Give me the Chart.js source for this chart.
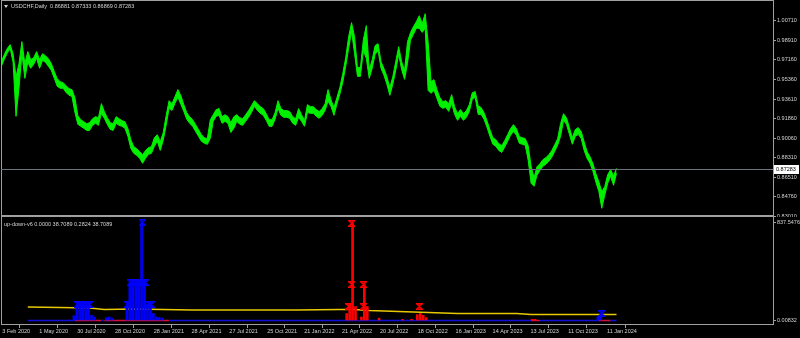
<!DOCTYPE html>
<html><head><meta charset="utf-8">
<script src="https://cdn.jsdelivr.net/npm/chart.js@4.4.1/dist/chart.umd.min.js"></script>
<style>
html,body{margin:0;padding:0;background:#000;width:800px;height:338px;overflow:hidden}
canvas{position:absolute;left:0;display:block}
#a{top:0}
#b{top:217px}
</style></head><body>
<canvas id="a" width="800" height="217"></canvas>
<canvas id="b" width="800" height="121"></canvas>
<script>
// ---------- data ----------
const symbolTitle = 'USDCHF,Daily  0.86881 0.87333 0.86869 0.87283';
const indicatorTitle = 'up-down-v6 0.0000 38.7089 0.2824 38.7089';
const firstWeek = '2020-02-03';
const lastPrice = 0.87283;
const tickDates = ['2020-02-03','2020-05-01','2020-07-30','2020-10-28','2021-01-28','2021-04-28','2021-07-27','2021-10-25','2022-01-21','2022-04-21','2022-07-20','2022-10-18','2023-01-16','2023-04-14','2023-07-13','2023-10-11','2024-01-11'];
const tickLabels = ['3 Feb 2020','1 May 2020','30 Jul 2020','28 Oct 2020','28 Jan 2021','28 Apr 2021','27 Jul 2021','25 Oct 2021','21 Jan 2022','21 Apr 2022','20 Jul 2022','18 Oct 2022','16 Jan 2023','14 Apr 2023','13 Jul 2023','11 Oct 2023','11 Jan 2024'];
const priceTicks = [1.00710,0.98910,0.97160,0.95360,0.93610,0.91860,0.90060,0.88310,0.86510,0.84760,0.83010];
const indTicks = [837.5476, 0];
const indTickLabels = ['837.5476', '0.00832'];

// weekly high / low (one entry per week starting 3 Feb 2020)
const weeklyHigh = [
0.9699,0.9762,0.9817,0.9853,0.9771,0.9563,0.9681,0.9880,0.9681,0.9790,
0.9717,0.9735,0.9790,0.9717,0.9771,0.9753,0.9726,0.9681,0.9609,0.9545,
0.9518,0.9509,0.9482,0.9455,0.9446,0.9373,0.9210,0.9174,0.9156,0.9138,
0.9147,0.9183,0.9201,0.9192,0.9319,0.9247,0.9192,0.9147,0.9138,0.9201,
0.9183,0.9165,0.9156,0.9093,0.8993,0.8930,0.8912,0.8885,0.8857,0.8894,
0.8921,0.8930,0.9011,0.9038,0.8975,0.9056,0.9210,0.9346,0.9319,0.9382,
0.9446,0.9391,0.9310,0.9237,0.9201,0.9174,0.9129,0.9084,0.9038,0.9011,
0.9002,0.9174,0.9219,0.9265,0.9274,0.9201,0.9219,0.9201,0.9147,0.9201,
0.9219,0.9192,0.9183,0.9219,0.9256,0.9301,0.9346,0.9319,0.9292,0.9274,
0.9228,0.9174,0.9174,0.9237,0.9346,0.9274,0.9256,0.9256,0.9247,0.9201,
0.9183,0.9274,0.9219,0.9165,0.9310,0.9292,0.9292,0.9265,0.9247,0.9274,
0.9319,0.9446,0.9355,0.9283,0.9373,0.9464,0.9590,0.9735,0.9925,1.0052,
0.9925,0.9645,0.9645,0.9898,1.0025,0.9627,0.9717,0.9844,0.9862,0.9699,
0.9636,0.9563,0.9464,0.9563,0.9699,0.9835,0.9699,0.9618,0.9880,0.9961,
1.0016,1.0061,1.0115,1.0043,1.0133,0.9880,0.9518,0.9536,0.9446,0.9373,
0.9337,0.9346,0.9319,0.9400,0.9292,0.9228,0.9265,0.9228,0.9256,0.9310,
0.9418,0.9428,0.9301,0.9283,0.9237,0.9165,0.9084,0.9011,0.8993,0.8957,
0.8939,0.8984,0.9038,0.9093,0.9129,0.9093,0.9020,0.9011,0.9002,0.8939,
0.8749,0.8649,0.8749,0.8776,0.8812,0.8830,0.8857,0.8894,0.8948,0.9002,
0.9138,0.9228,0.9192,0.9102,0.9011,0.9084,0.9102,0.9066,0.8975,0.8885,
0.8839,0.8776,0.8685,0.8613,0.8523,0.8568,0.8676,0.8722,0.8667,0.8733];
const weeklyLow = [
0.9657,0.9720,0.9774,0.9820,0.9693,0.9204,0.9458,0.9774,0.9548,0.9693,
0.9639,0.9675,0.9729,0.9639,0.9711,0.9693,0.9657,0.9620,0.9548,0.9476,
0.9458,0.9458,0.9421,0.9394,0.9385,0.9240,0.9132,0.9114,0.9096,0.9077,
0.9077,0.9123,0.9141,0.9123,0.9231,0.9186,0.9132,0.9086,0.9077,0.9141,
0.9123,0.9114,0.9096,0.9023,0.8915,0.8869,0.8851,0.8824,0.8779,0.8824,
0.8860,0.8869,0.8933,0.8978,0.8896,0.8987,0.9123,0.9277,0.9258,0.9322,
0.9376,0.9313,0.9249,0.9177,0.9141,0.9114,0.9068,0.9023,0.8978,0.8960,
0.8951,0.9005,0.9159,0.9204,0.9213,0.9141,0.9159,0.9141,0.9059,0.9096,
0.9159,0.9132,0.9123,0.9159,0.9195,0.9240,0.9295,0.9258,0.9231,0.9213,
0.9168,0.9114,0.9114,0.9177,0.9277,0.9213,0.9195,0.9195,0.9186,0.9141,
0.9123,0.9195,0.9159,0.9114,0.9240,0.9231,0.9231,0.9204,0.9186,0.9213,
0.9258,0.9340,0.9295,0.9213,0.9313,0.9403,0.9512,0.9657,0.9820,0.9973,
0.9774,0.9566,0.9566,0.9801,0.9729,0.9548,0.9639,0.9765,0.9801,0.9639,
0.9575,0.9494,0.9394,0.9494,0.9620,0.9765,0.9629,0.9539,0.9684,0.9892,
0.9946,1.0001,1.0001,0.9964,1.0001,0.9439,0.9412,0.9439,0.9367,0.9295,
0.9277,0.9286,0.9249,0.9322,0.9222,0.9168,0.9204,0.9168,0.9195,0.9249,
0.9358,0.9376,0.9222,0.9222,0.9177,0.9105,0.9023,0.8951,0.8933,0.8896,
0.8878,0.8924,0.8978,0.9032,0.9068,0.9032,0.8960,0.8951,0.8942,0.8806,
0.8598,0.8571,0.8670,0.8715,0.8752,0.8770,0.8797,0.8833,0.8887,0.8942,
0.9023,0.9168,0.9132,0.9041,0.8951,0.9023,0.9041,0.9005,0.8896,0.8824,
0.8779,0.8706,0.8607,0.8525,0.8372,0.8489,0.8598,0.8661,0.8580,0.8687];

// indicator (week index -> value)
const blueWeeks  = [25,26,27,28,29,30,31,32,36,37,38,43,44,45,46,47,48,49,50,51,52,53,54,55,203,204];
const blueValues = [40,137,137,137,137,137,45,30,25,30,20,137,325,325,325,325,837.5,325,137,137,60,30,25,20,30,60];
const redWeeks   = [117,118,119,120,122,123,124,128,136,139,141,142,143,144,180,181];
const redValues  = [60,137,830,120,30,308,120,20,10,10,50,60,45,25,10,10];
const blueMarkWeeks  = [26,27,28,29,30,43,44,45,46,47,48,49,50,51,48,204];
const blueMarkValues = [137,137,137,137,137,137,325,325,325,325,325,325,137,137,837.5,60];
const redMarkWeeks  = [118,119,119,123,123,142];
const redMarkValues = [120,830,308,308,120,120];
const yellowWeeks  = [9,20,30,35,45,55,65,80,100,115,120,125,135,145,155,175,180,209];
const yellowValues = [115,111,107,94,98,94,90,90,90,94,94,85,77,68,60,60,51,51];
const baseStart = 9, baseEnd = 209;
const redBaseRanges = [[25,33],[35,56],[180,182],[203,206]];

// ---------- helpers ----------
const DAY = 86400000;
const t0 = Date.parse(firstWeek + 'T00:00:00Z');
const dayOf = s => Math.round((Date.parse(s + 'T00:00:00Z') - t0) / DAY);
const wk = w => w * 7;
const X_MIN = -0.71, X_MAX = 1835.2;
const Y_MIN = 0.83022, Y_MAX = 1.024795;
const FONT = 'Liberation Sans';
const FS = 5.5;
const TXT = '#d4d4d4';
const FRAME = '#a0a0a0';
const GREEN = '#00f000';

function marker(color) {
  const c = document.createElement('canvas');
  c.width = 7; c.height = 7;
  const g = c.getContext('2d');
  g.strokeStyle = color; g.lineWidth = 1.4;
  g.beginPath();
  g.moveTo(0, 0.7); g.lineTo(7, 0.7);
  g.moveTo(0, 6.3); g.lineTo(7, 6.3);
  g.moveTo(1, 1); g.lineTo(6, 6);
  g.moveTo(6, 1); g.lineTo(1, 6);
  g.stroke();
  return c;
}

const framePlugin = {
  id: 'frame',
  afterDraw(chart, args, opts) {
    const {ctx, chartArea: a} = chart;
    ctx.save();
    ctx.fillStyle = FRAME;
    ctx.fillRect(a.left, a.top - 1, 1, a.bottom - a.top + 1);
    ctx.fillRect(a.right, a.top - 1, 1, a.bottom - a.top + 1);
    if (opts.top) ctx.fillRect(a.left, a.top - 1, a.right - a.left + 1, 1);
    if (opts.bottom) ctx.fillRect(a.left, a.bottom - opts.bottom + 1, a.right - a.left + 1, opts.bottom);
    ctx.restore();
  }
};

const mainDecor = {
  id: 'mainDecor',
  afterDraw(chart) {
    const {ctx, chartArea: a, scales} = chart;
    const y = Math.round(scales.y.getPixelForValue(lastPrice)) + 0.5;
    ctx.save();
    ctx.strokeStyle = '#68737d'; ctx.lineWidth = 1;
    ctx.beginPath(); ctx.moveTo(a.left, y); ctx.lineTo(a.right, y); ctx.stroke();
    ctx.fillStyle = '#ffffff';
    ctx.fillRect(a.right + 1, y - 4.5, 25, 9);
    ctx.fillStyle = '#000000';
    ctx.font = FS + 'px "' + FONT + '"';
    ctx.textBaseline = 'middle';
    ctx.fillText(lastPrice.toFixed(5), a.right + 3, y);
    // title
    ctx.fillStyle = TXT;
    ctx.beginPath(); ctx.moveTo(4, 5); ctx.lineTo(8, 5); ctx.lineTo(6, 8); ctx.closePath(); ctx.fill();
    ctx.fillText(symbolTitle, 11, 6.5);
    ctx.restore();
  }
};

const subDecor = {
  id: 'subDecor',
  afterDraw(chart) {
    const {ctx} = chart;
    ctx.save();
    ctx.fillStyle = TXT;
    ctx.font = FS + 'px "' + FONT + '"';
    ctx.textBaseline = 'middle';
    ctx.fillText(indicatorTitle, 4, 7);
    ctx.restore();
  }
};

// ---------- main chart: price band between weekly highs and lows ----------
new Chart(document.getElementById('a'), {
  type: 'line',
  data: {datasets: [
    {data: weeklyHigh.map((h, i) => ({x: wk(i), y: h})), borderColor: GREEN, borderWidth: 1, pointRadius: 0, fill: false},
    {data: weeklyLow.map((l, i) => ({x: wk(i), y: l})), borderColor: GREEN, borderWidth: 1, pointRadius: 0, fill: '-1', backgroundColor: GREEN}
  ]},
  options: {
    responsive: false, animation: false, events: [],
    layout: {padding: {top: 1, left: 1, right: 0, bottom: 1}, autoPadding: false},
    plugins: {legend: {display: false}, tooltip: {enabled: false}, frame: {top: true, bottom: 2}},
    scales: {
      x: {type: 'linear', min: X_MIN, max: X_MAX, offset: false, display: false},
      y: {
        position: 'right', min: Y_MIN, max: Y_MAX,
        afterBuildTicks(s) { s.ticks = priceTicks.map(v => ({value: v})); },
        afterFit(s) { s.width = 27; s.paddingTop = 0; s.paddingBottom = 0; },
        ticks: {color: TXT, font: {family: FONT, size: FS}, padding: 1, callback: v => Number(v).toFixed(5)},
        grid: {drawOnChartArea: false, color: FRAME, tickLength: 3},
        border: {display: false}
      }
    }
  },
  plugins: [framePlugin, mainDecor]
});

// ---------- indicator chart ----------
const inRed = w => redBaseRanges.some(r => w >= r[0] && w <= r[1]);
const basePts = [];
for (let w = baseStart; w <= baseEnd; w++) basePts.push({x: wk(w), y: 0});

new Chart(document.getElementById('b'), {
  type: 'bar',
  data: {datasets: [
    {type: 'line', data: blueMarkWeeks.map((w, i) => ({x: wk(w), y: blueMarkValues[i]})), showLine: false, pointStyle: marker('#0000ff'), pointRadius: 3.5},
    {type: 'line', data: redMarkWeeks.map((w, i) => ({x: wk(w), y: redMarkValues[i]})), showLine: false, pointStyle: marker('#ff0000'), pointRadius: 3.5},
    {data: blueWeeks.map((w, i) => ({x: wk(w), y: blueValues[i]})), backgroundColor: '#0000ff', borderWidth: 0, barThickness: 2},
    {data: redWeeks.map((w, i) => ({x: wk(w), y: redValues[i]})), backgroundColor: '#ff0000', borderWidth: 0, barThickness: 2},
    {type: 'line', data: yellowWeeks.map((w, i) => ({x: wk(w), y: yellowValues[i]})), borderColor: '#e8c800', borderWidth: 1.5, pointRadius: 0, tension: 0},
    {type: 'line', data: basePts, borderWidth: 1.5, pointRadius: 0, borderColor: '#1010d8',
      segment: {borderColor: c => inRed(c.p0.parsed.x / 7) ? '#d0103c' : '#1010d8'}}
  ]},
  options: {
    responsive: false, animation: false, events: [],
    layout: {padding: {top: 1, left: 1, right: 0, bottom: 0}, autoPadding: false},
    plugins: {legend: {display: false}, tooltip: {enabled: false}, frame: {top: false, bottom: 1}},
    scales: {
      x: {
        type: 'linear', min: X_MIN, max: X_MAX, offset: false,
        afterBuildTicks(s) { s.ticks = tickDates.map(d => ({value: dayOf(d)})); },
        afterFit(s) { s.height = 14; s.paddingLeft = 0; s.paddingRight = 0; },
        ticks: {color: TXT, font: {family: FONT, size: FS}, padding: 0, align: 'start', labelOffset: 1,
          autoSkip: false, maxRotation: 0, minRotation: 0, callback: (v, i) => tickLabels[i]},
        grid: {drawOnChartArea: false, color: FRAME, tickLength: 4},
        border: {display: false}
      },
      y: {
        position: 'right', min: -29.9, max: 876,
        afterBuildTicks(s) { s.ticks = indTicks.map(v => ({value: v})); },
        afterFit(s) { s.width = 27; s.paddingTop = 0; s.paddingBottom = 0; },
        ticks: {color: TXT, font: {family: FONT, size: FS}, padding: 1, callback: (v, i) => indTickLabels[i]},
        grid: {drawOnChartArea: false, color: FRAME, tickLength: 3},
        border: {display: false}
      }
    }
  },
  plugins: [framePlugin, subDecor]
});
</script>
</body></html>
